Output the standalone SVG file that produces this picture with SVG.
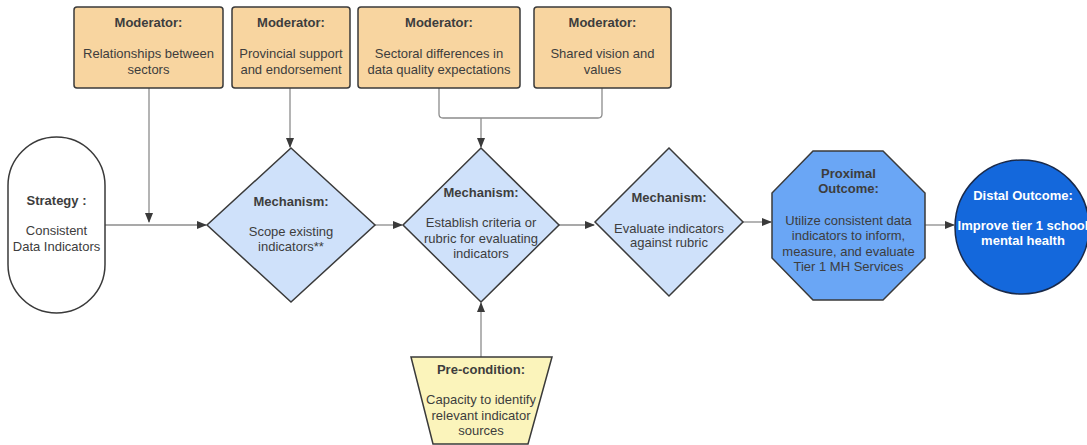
<svg xmlns="http://www.w3.org/2000/svg" width="1087" height="445" viewBox="0 0 1087 445">
<style>
text{font-family:"Liberation Sans",Arial,sans-serif;font-size:13px;fill:#3d3d3d;text-anchor:middle}
.b{font-weight:bold}
.mod{fill:#f8d5a0;stroke:#3a3a3a;stroke-width:1.5}
.mech{fill:#cfe1fa;stroke:#3a3a3a;stroke-width:1.5}
.ln{fill:none;stroke:#8c8c8c;stroke-width:1.3}
.w{fill:#ffffff}
</style>
<defs>
<marker id="ah" markerWidth="10" markerHeight="8" refX="9" refY="4" orient="auto" markerUnits="userSpaceOnUse">
<path d="M0,0 L10,4 L0,8 Z" fill="#3a3a3a"/>
</marker>
</defs>
<rect width="1087" height="445" fill="#ffffff"/>
<g id="connectors">
<path class="ln" d="M105,225 H206" marker-end="url(#ah)"/>
<path class="ln" d="M149,88 V222" marker-end="url(#ah)"/>
<path class="ln" d="M290,88 V147" marker-end="url(#ah)"/>
<path class="ln" d="M439,88 V114 Q439,118 443,118 H598 Q602,118 602,114 V88"/>
<path class="ln" d="M481,118 V147" marker-end="url(#ah)"/>
<path class="ln" d="M375,225 H402" marker-end="url(#ah)"/>
<path class="ln" d="M559,225 H594" marker-end="url(#ah)"/>
<path class="ln" d="M743,222 H771" marker-end="url(#ah)"/>
<path class="ln" d="M925,225 H954" marker-end="url(#ah)"/>
<path class="ln" d="M481,357 V303" marker-end="url(#ah)"/>
</g>
<g id="mod1">
<rect class="mod" x="74" y="7" width="149" height="81" rx="3"/>
<text class="b" x="148.5" y="27">Moderator:</text>
<text x="148.5" y="58">Relationships between</text>
<text x="148.5" y="74">sectors</text>
</g>
<g id="mod2">
<rect class="mod" x="232" y="7" width="118" height="81" rx="3"/>
<text class="b" x="291" y="27">Moderator:</text>
<text x="291" y="58">Provincial support</text>
<text x="291" y="74">and endorsement</text>
</g>
<g id="mod3">
<rect class="mod" x="358" y="7" width="162" height="81" rx="3"/>
<text class="b" x="439" y="27">Moderator:</text>
<text x="439" y="58">Sectoral differences in</text>
<text x="439" y="74">data quality expectations</text>
</g>
<g id="mod4">
<rect class="mod" x="534" y="7" width="137" height="81" rx="3"/>
<text class="b" x="602.5" y="27">Moderator:</text>
<text x="602.5" y="58">Shared vision and</text>
<text x="602.5" y="74">values</text>
</g>
<g id="strategy">
<rect x="8" y="137" width="97" height="176" rx="48.5" fill="#ffffff" stroke="#3a3a3a" stroke-width="1.5"/>
<text class="b" x="56.5" y="205">Strategy :</text>
<text x="56.5" y="235">Consistent</text>
<text x="56.5" y="251">Data Indicators</text>
</g>
<g id="mech1">
<polygon class="mech" points="291,148 375,225 291,302 207,225"/>
<text class="b" x="291" y="206">Mechanism:</text>
<text x="291" y="236">Scope existing</text>
<text x="291" y="251">indicators**</text>
</g>
<g id="mech2">
<polygon class="mech" points="481,148 559,225 481,302 403,225"/>
<text class="b" x="481" y="197">Mechanism:</text>
<text x="481" y="227">Establish criteria or</text>
<text x="481" y="243">rubric for evaluating</text>
<text x="481" y="258">indicators</text>
</g>
<g id="mech3">
<polygon class="mech" points="669,148 743,222 669,296 595,222"/>
<text class="b" x="669" y="202">Mechanism:</text>
<text x="669" y="233">Evaluate indicators</text>
<text x="669" y="247">against rubric</text>
</g>
<g id="proximal">
<polygon points="813,151 883,151 925,193 925,258 883,300 813,300 772,258 772,193" fill="#6aa6f5" stroke="#3a3a3a" stroke-width="1.5"/>
<text class="b" x="848.5" y="178">Proximal</text>
<text class="b" x="848.5" y="193">Outcome:</text>
<text x="848.5" y="225">Utilize consistent data</text>
<text x="848.5" y="240">indicators to inform,</text>
<text x="848.5" y="256">measure, and evaluate</text>
<text x="848.5" y="271">Tier 1 MH Services</text>
</g>
<g id="distal">
<circle cx="1022" cy="227" r="67" fill="#1468dc" stroke="#1a2a4a" stroke-width="1.5"/>
<text class="b w" x="1023" y="200">Distal Outcome:</text>
<text class="b w" x="1023" y="230">Improve tier 1 school</text>
<text class="b w" x="1023" y="245">mental health</text>
</g>
<g id="precondition">
<polygon points="411,357 552,357 528,444 433,444" fill="#fbf4bb" stroke="#3a3a3a" stroke-width="1.5"/>
<text class="b" x="481" y="374">Pre-condition:</text>
<text x="481" y="404">Capacity to identify</text>
<text x="481" y="420">relevant indicator</text>
<text x="481" y="435">sources</text>
</g>
</svg>
